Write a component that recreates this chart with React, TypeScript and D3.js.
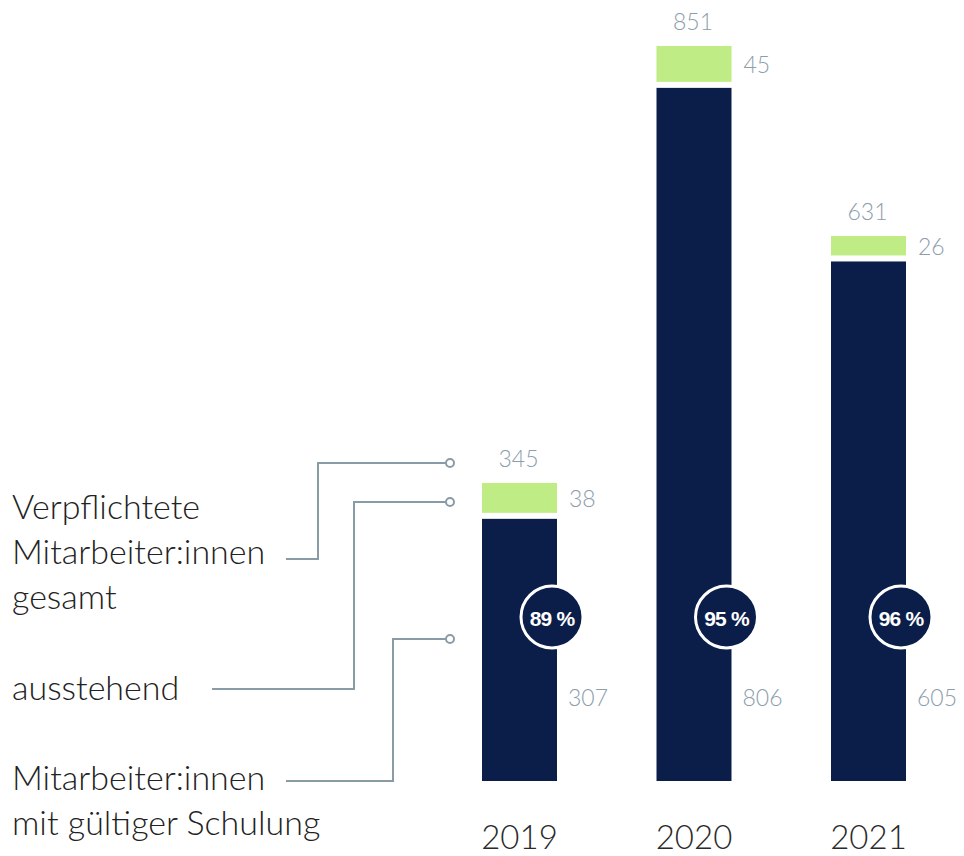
import React from "react";
import * as d3 from "d3";

const years = ["2019", "2020", "2021"];
const totals = [345, 851, 631];
const pending = [38, 45, 26];
const valid = [307, 806, 605];
const percents = ["89 %", "95 %", "96 %"];

const NAVY = "#0b1e4a";
const GREEN = "#bfec84";
const GRAY = "#8c9dab";
const LINE = "#8a9ba8";
const FONT = "'Lato', 'Roboto', 'Open Sans', sans-serif";
const BOLD_FONT = "'Liberation Sans', 'Roboto', sans-serif";

export default function App() {
  const W = 964;
  const H = 856;
  const baseY = 781;
  const barW = 75;
  const gap = 6;

  const x = d3.scalePoint<string>().domain(years).range([519.5, 868.5]);
  const y = d3.scaleLinear().domain([0, 851]).range([baseY, 46]);

  const leaders = [
    { startX: 286, startY: 559, vx: 318, endY: 463 },
    { startX: 212, startY: 689, vx: 354, endY: 502 },
    { startX: 286, startY: 781, vx: 393, endY: 639 },
  ];
  const dotX = 450;

  const leftLabels = [
    { lines: ["Verpflichtete", "Mitarbeiter:innen", "gesamt"], y: 519 },
    { lines: ["ausstehend"], y: 700 },
    { lines: ["Mitarbeiter:innen", "mit gültiger Schulung"], y: 790 },
  ];

  return (
    <svg
      width={W}
      height={H}
      style={{ position: "absolute", left: 0, top: 0, display: "block", background: "#fff" }}
      fontFamily={FONT}
    >
      {leaders.map((l, i) => (
        <g key={"ld" + i}>
          <path
            d={d3.line()([
              [l.startX, l.startY],
              [l.vx, l.startY],
              [l.vx, l.endY],
              [dotX - 4, l.endY],
            ]) || ""}
            fill="none"
            stroke={LINE}
            strokeWidth={2}
          />
          <circle cx={dotX} cy={l.endY} r={4} fill="#fff" stroke={LINE} strokeWidth={2} />
        </g>
      ))}

      {leftLabels.map((lab, i) => (
        <text key={"ll" + i} x={12} y={lab.y} fontSize={34} fontWeight={300} fill="#222">
          {lab.lines.map((t, j) => (
            <tspan key={j} x={12} dy={j === 0 ? 0 : 45}>
              {t}
            </tspan>
          ))}
        </text>
      ))}

      {years.map((yr, i) => {
        const cx = x(yr) as number;
        const left = cx - barW / 2;
        const right = cx + barW / 2;
        const yTotal = y(totals[i]);
        const yValid = y(valid[i]);
        const greenTop = yTotal;
        const greenBottom = yValid - gap / 2;
        const navyTop = yValid + gap / 2;
        return (
          <g key={yr}>
            <rect x={left} y={greenTop} width={barW} height={greenBottom - greenTop} fill={GREEN} />
            <rect x={left} y={navyTop} width={barW} height={baseY - navyTop} fill={NAVY} />
            <text
              x={cx - 1}
              y={greenTop - 16}
              textAnchor="middle"
              fontSize={23}
              fontWeight={300}
              fill={GRAY}
            >
              {totals[i]}
            </text>
            <text
              x={right + 12}
              y={(greenTop + greenBottom) / 2}
              dominantBaseline="central"
              fontSize={23}
              fontWeight={300}
              fill={GRAY}
            >
              {pending[i]}
            </text>
            <text
              x={right + 11}
              y={697}
              dominantBaseline="central"
              fontSize={23}
              fontWeight={300}
              fill={GRAY}
            >
              {valid[i]}
            </text>
            <circle cx={right - 5} cy={617} r={31} fill={NAVY} stroke="#fff" strokeWidth={3} />
            <text
              x={right - 5}
              y={618}
              textAnchor="middle"
              dominantBaseline="central"
              fontSize={21}
              fontWeight={700}
              fontFamily={BOLD_FONT}
              fill="#fff"
              letterSpacing={-0.8}
            >
              {percents[i]}
            </text>
            <text
              x={cx}
              y={849}
              textAnchor="middle"
              fontSize={33}
              fontWeight={300}
              fill="#2a2a2a"
            >
              {yr}
            </text>
          </g>
        );
      })}
    </svg>
  );
}
